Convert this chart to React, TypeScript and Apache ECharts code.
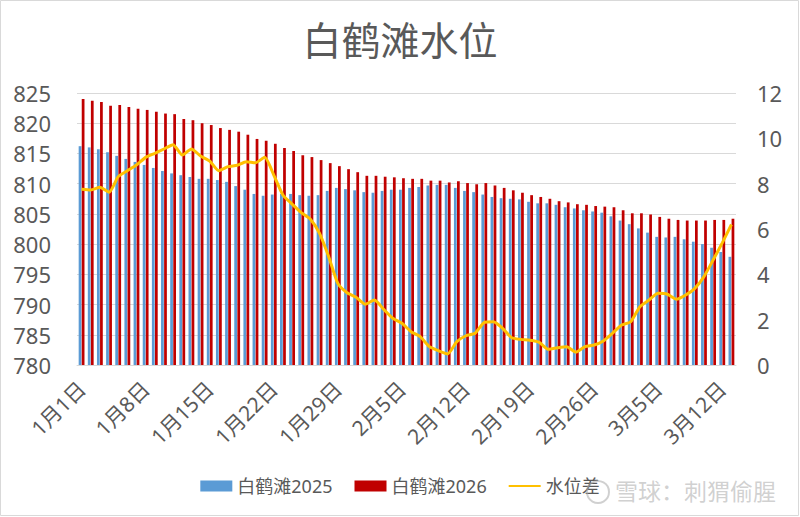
import { useEffect, useRef } from 'react';
import * as echarts from 'echarts';

// 1月1日 .. 3月13日，每天一个分类
const MONTH_DAYS = [31, 28, 13];
const categories: string[] = [];
MONTH_DAYS.forEach((n, m) => {
  for (let d = 1; d <= n; d++) categories.push(`${m + 1}月${d}日`);
});

const level2025 = [
  816.2, 816.0, 815.7, 815.2, 814.6, 814.1, 813.6, 813.1, 812.6, 812.1, 811.7, 811.4, 811.1, 810.8,
  810.8, 810.6, 810.3, 809.6, 809.0, 808.3, 808.0, 808.2, 808.3, 808.3, 808.1,
  808.0, 808.1, 808.8, 809.3, 809.1, 808.9, 808.6, 808.5, 808.8, 809.0, 809.0, 809.3, 809.45,
  809.7, 809.8, 809.8, 809.3, 808.8, 808.6, 808.2, 807.8, 807.6, 807.5,
  807.4, 807.0, 806.75, 806.75, 806.5, 806.1, 805.9, 805.6, 805.4, 805.2, 804.6, 803.9, 803.3,
  802.6, 801.9, 801.2, 801.1, 801.2, 800.8, 800.4, 800.0, 799.4, 798.7, 797.9,
];

const level2026 = [
  824.0, 823.7, 823.5, 822.9, 823.0, 822.7, 822.4, 822.2, 821.9, 821.6, 821.5, 820.7, 820.5, 820.0,
  819.7, 819.2, 818.9, 818.6, 818.1, 817.4, 817.1, 816.6, 815.9, 815.4, 814.7,
  814.4, 813.9, 813.4, 812.9, 812.4, 811.9, 811.3, 811.3, 811.15, 811.05, 810.9, 810.8, 810.8,
  810.5, 810.5, 810.2, 810.4, 810.1, 809.9, 810.1, 809.7, 809.3, 808.9,
  808.5, 808.1, 807.8, 807.5, 807.1, 806.9, 806.6, 806.5, 806.3, 806.2, 806.1, 805.6, 805.1,
  805.1, 804.9, 804.5, 804.2, 804.0, 803.9, 803.9, 803.9, 804.0, 804.0, 804.2,
];

const levelDiff = [
  7.75, 7.72, 7.84, 7.62, 8.31, 8.57, 8.82, 9.16, 9.34, 9.53, 9.72, 9.26, 9.53, 9.22, 9.0, 8.57,
  8.75, 8.81, 8.97, 8.92, 9.16, 8.38, 7.5, 7.1, 6.72,
  6.43, 5.81, 4.78, 3.6, 3.19, 2.99, 2.68, 2.87, 2.46, 2.06, 1.84, 1.47, 1.25, 0.81, 0.63, 0.49,
  1.03, 1.29, 1.4, 1.88, 1.91, 1.62, 1.2,
  1.13, 1.09, 1.0, 0.69, 0.76, 0.81, 0.57, 0.81, 0.88, 1.06, 1.4, 1.76, 1.91, 2.57, 2.87, 3.16,
  3.12, 2.9, 3.09, 3.38, 3.9, 4.63, 5.39, 6.2,
];

const FONT = '"Noto Sans", "Noto Sans CJK SC", sans-serif';
const TEXT = '#595959';
// 细横线图例图标，四角的极小三角只用来撑开包围盒，避免被拉伸
const LINE_ICON = 'path://M0,0L0.01,0L0,0.01Z M0,4.5H32V6.5H0Z M32,11L31.99,11L32,10.99Z';

export default function App() {
  const ref = useRef<HTMLDivElement>(null);

  useEffect(() => {
    document.body.style.margin = '0';
    if (!ref.current) return;
    const chart = echarts.init(ref.current, null, { renderer: 'svg' });
    chart.setOption({
      animation: false,
      backgroundColor: '#fff',
      textStyle: { fontFamily: FONT },
      title: {
        text: '白鹤滩水位',
        left: 'center',
        top: 13,
        textStyle: { fontSize: 39, fontWeight: 'normal', color: TEXT, fontFamily: '"Noto Sans CJK SC", sans-serif' },
      },
      legend: {
        bottom: 17,
        left: 'center',
        itemWidth: 32,
        itemHeight: 11,
        itemGap: 22,
        textStyle: { fontSize: 18, color: TEXT, fontFamily: FONT },
        data: [
          { name: '白鹤滩2025', icon: 'rect' },
          { name: '白鹤滩2026', icon: 'rect' },
          { name: '水位差', icon: LINE_ICON, itemStyle: { color: '#ffc000' } },
        ],
      },
      grid: { left: 77, right: 64, top: 93, bottom: 152, containLabel: false },
      xAxis: {
        type: 'category',
        data: categories,
        boundaryGap: true,
        axisLine: { show: true, lineStyle: { color: '#d9d9d9' } },
        axisTick: { show: false },
        axisLabel: { interval: 6, rotate: 45, fontSize: 21, color: TEXT, margin: 20, fontFamily: FONT },
      },
      yAxis: [
        {
          type: 'value',
          min: 780,
          max: 825,
          interval: 5,
          axisLine: { show: false },
          axisTick: { show: false },
          axisLabel: { fontSize: 22, color: TEXT, margin: 26, fontFamily: FONT },
          splitLine: { lineStyle: { color: '#d9d9d9', width: 1 } },
        },
        {
          type: 'value',
          min: 0,
          max: 12,
          interval: 2,
          axisLine: { show: false },
          axisTick: { show: false },
          axisLabel: { fontSize: 22, color: TEXT, margin: 21, fontFamily: FONT },
          splitLine: { show: false },
        },
      ],
      series: [
        {
          name: '白鹤滩2025',
          type: 'bar',
          data: level2025,
          barWidth: '30%',
          barGap: '12%',
          itemStyle: { color: '#5b9bd5' },
        },
        {
          name: '白鹤滩2026',
          type: 'bar',
          data: level2026,
          barWidth: '30%',
          barGap: '12%',
          itemStyle: { color: '#c00000' },
        },
        {
          name: '水位差',
          type: 'line',
          yAxisIndex: 1,
          data: levelDiff,
          smooth: 0.2,
          symbol: 'none',
          lineStyle: { color: '#ffc000', width: 3 },
          itemStyle: { color: '#ffc000' },
          z: 5,
        },
      ],
      graphic: [
        {
          type: 'rect',
          shape: { x: 0.5, y: 0.5, width: 798, height: 515 },
          style: { fill: 'none', stroke: '#d9d9d9', lineWidth: 1 },
          silent: true,
        },
        {
          type: 'circle',
          shape: { cx: 598, cy: 492, r: 11 },
          style: { fill: 'none', stroke: 'rgba(170,170,170,0.55)', lineWidth: 2 },
          z: 100,
          silent: true,
        },
        {
          type: 'text',
          left: 615,
          top: 478,
          style: {
            text: '雪球：刺猬偷腥',
            fontSize: 23,
            fill: 'rgba(170,170,170,0.55)',
            fontFamily: '"Noto Sans CJK SC", sans-serif',
          },
          z: 100,
          silent: true,
        },
      ],
    });
    return () => chart.dispose();
  }, []);

  return <div ref={ref} style={{ width: 800, height: 517 }} />;
}
